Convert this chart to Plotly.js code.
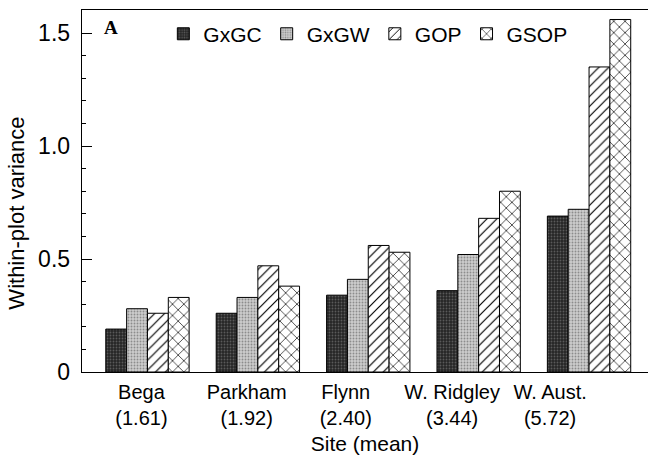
<!DOCTYPE html>
<html>
<head>
<meta charset="utf-8">
<script src="https://cdn.plot.ly/plotly-3.0.1.min.js"></script>
<style>html,body{margin:0;padding:0;background:#fff;}#chart{width:650px;height:462px;}</style>
</head>
<body>
<div id="chart"></div>
<script>
// ---- data ----
const sites = ['Bega', 'Parkham', 'Flynn', 'W. Ridgley', 'W. Aust.'];
const siteMeans = ['(1.61)', '(1.92)', '(2.40)', '(3.44)', '(5.72)'];
const seriesNames = ['GxGC', 'GxGW', 'GOP', 'GSOP'];
const gxgc = [0.19, 0.26, 0.34, 0.36, 0.69];
const gxgw = [0.28, 0.33, 0.41, 0.52, 0.72];
const gop  = [0.26, 0.47, 0.56, 0.68, 1.35];
const gsop = [0.33, 0.38, 0.53, 0.80, 1.56];
const yTickVals = [0, 0.5, 1.0, 1.5];
const yTickText = ['0', '0.5', '1.0', '1.5'];

// ---- layout helpers (positions of category labels, as in the original print) ----
const labelPos = [0.105, 0.291, 0.466, 0.654, 0.827];
const labelText = sites.map((s, i) => s + '<br>' + siteMeans[i]);

const FONT = 'Liberation Sans, Arial, sans-serif';
const line = {color: '#000', width: 1};

const traces = [
  {name: seriesNames[0], y: gxgc,
   marker: {color: '#2b2b2b', line: line,
            pattern: {shape: '.', fgcolor: '#5a5a5a', bgcolor: '#262626', size: 3, solidity: 0.3}}},
  {name: seriesNames[1], y: gxgw,
   marker: {color: '#c0c0c0', line: line,
            pattern: {shape: '.', fgcolor: '#8c8c8c', bgcolor: '#cdcdcd', size: 3, solidity: 0.3}}},
  {name: seriesNames[2], y: gop,
   marker: {color: '#fff', line: line,
            pattern: {shape: '/', fgcolor: '#000', bgcolor: '#fff', size: 7, solidity: 0.17}}},
  {name: seriesNames[3], y: gsop,
   marker: {color: '#fff', line: line,
            pattern: {shape: 'x', fgcolor: '#000', bgcolor: '#fff', size: 8, solidity: 0.16}}}
].map(t => Object.assign({type: 'bar', x: sites, xaxis: 'x', yaxis: 'y'}, t));

// empty helper trace so the label axis is drawn
traces.push({type: 'scatter', mode: 'markers', x: [], y: [], xaxis: 'x2', yaxis: 'y',
             showlegend: false, hoverinfo: 'skip'});

const layout = {
  width: 650, height: 462,
  margin: {l: 82, r: 2, t: 10, b: 90},
  paper_bgcolor: '#fff', plot_bgcolor: '#fff',
  font: {family: FONT, size: 20, color: '#000'},
  barmode: 'group', bargap: 0.245, bargroupgap: 0,
  showlegend: true,
  legend: {orientation: 'h', x: 0.505, y: 0.99, xanchor: 'center', yanchor: 'top',
           font: {family: FONT, size: 21}, itemwidth: 30, tracegroupgap: 0,
           bgcolor: 'rgba(0,0,0,0)', itemclick: false},
  xaxis: {type: 'category', range: [-0.593, 4.534], showticklabels: false,
          ticks: '', showline: true, mirror: true, linecolor: '#000', linewidth: 1.3,
          showgrid: false, zeroline: false, fixedrange: true},
  xaxis2: {overlaying: 'x', anchor: 'y', side: 'bottom', range: [0, 1],
           tickvals: labelPos, ticktext: labelText, ticks: '', showline: false,
           showgrid: false, zeroline: false, tickfont: {family: FONT, size: 20},
           ticklabelstandoff: 6,
           title: {text: 'Site (mean)', font: {family: FONT, size: 21}, standoff: 8}},
  yaxis: {range: [0, 1.602], tickvals: yTickVals, ticktext: yTickText,
          ticks: 'inside', ticklen: 10, tickwidth: 1, tickcolor: '#000',
          minor: {dtick: 0.1, ticks: 'inside', ticklen: 4, tickwidth: 1, tickcolor: '#000', showgrid: false},
          showline: true, linecolor: '#000', linewidth: 1.3, showgrid: false, zeroline: false,
          tickfont: {family: FONT, size: 23}, ticklabelstandoff: 6},
  annotations: [
    {text: '<b>A</b>', xref: 'paper', yref: 'paper', x: 0.036, y: 0.985,
     xanchor: 'left', yanchor: 'top', showarrow: false,
     font: {family: 'Liberation Serif, Times New Roman, serif', size: 19, color: '#000'}},
    {text: 'Within-plot variance', xref: 'paper', yref: 'paper', x: -0.115, y: 0.44,
     xanchor: 'center', yanchor: 'middle', textangle: -90, showarrow: false,
     font: {family: FONT, size: 22, color: '#000'}}
  ]
};

Plotly.newPlot('chart', traces, layout, {staticPlot: true, displayModeBar: false});
</script>
</body>
</html>
